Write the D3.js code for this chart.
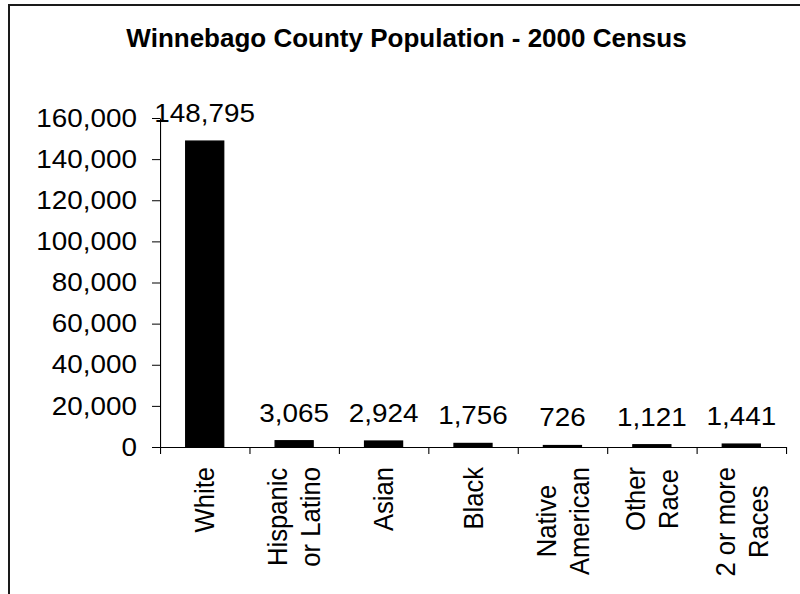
<!DOCTYPE html>
<html>
<head>
<meta charset="utf-8">
<script src="https://cdn.jsdelivr.net/npm/d3@7/dist/d3.min.js"></script>
<style>
  html, body { margin: 0; padding: 0; background: #fff; }
  svg { display: block; }
  text { font-family: "Liberation Sans", Arial, Helvetica, sans-serif; fill: #000; }
</style>
</head>
<body>
<svg id="chart" width="800" height="594"></svg>
<script>
// ---- data ----
const categories = ["White", "Hispanic or Latino", "Asian", "Black", "Native American", "Other Race", "2 or more Races"];
const categoryLines = [["White"], ["Hispanic", "or Latino"], ["Asian"], ["Black"], ["Native", "American"], ["Other", "Race"], ["2 or more", "Races"]];
const values = [148795, 3065, 2924, 1756, 726, 1121, 1441];
const yTicks = [0, 20000, 40000, 60000, 80000, 100000, 120000, 140000, 160000];
const titleText = "Winnebago County Population - 2000 Census";

// ---- layout ----
const W = 800, H = 594;
const sx = 1.088;           // horizontal stretch of the original rendering
const plotLeft = 160, plotRight = 786, plotTop = 118, plotBottom = 447;
const fontSize = 25.6;

const svg = d3.select("#chart");

// frame
svg.append("rect")
  .attr("x", 9).attr("y", 5)
  .attr("width", W + 20).attr("height", H + 20)
  .attr("fill", "none").attr("stroke", "#1a1a1a").attr("stroke-width", 2);

// title
svg.append("text")
  .attr("x", 406.5).attr("y", 47)
  .attr("text-anchor", "middle")
  .style("font-weight", "bold")
  .style("font-size", "26px")
  .text(titleText);

const g = svg.append("g").attr("transform", `scale(${sx},1)`);

const y = d3.scaleLinear().domain([0, 160000]).range([plotBottom, plotTop]);
const x = d3.scaleBand()
  .domain(categories)
  .range([plotLeft / sx, plotRight / sx])
  .paddingInner(0.575)
  .paddingOuter(0.2875);
const xIdx = d3.scaleLinear().domain([0, categories.length]).range([plotLeft / sx, plotRight / sx]);

// y axis
const yAxis = g.append("g")
  .attr("transform", `translate(${plotLeft / sx},0)`)
  .call(d3.axisLeft(y).tickValues(yTicks).tickFormat(d3.format(","))
    .tickSize(8 / sx).tickSizeOuter(0).tickPadding(15 / sx));
yAxis.selectAll("text").style("font-size", fontSize + "px").attr("fill", "#000").attr("font-family", null);
yAxis.selectAll("line,path").attr("stroke", "#000");

// x axis (ticks between categories)
const xAxis = g.append("g")
  .attr("transform", `translate(0,${plotBottom})`)
  .call(d3.axisBottom(xIdx).tickValues(d3.range(categories.length + 1))
    .tickFormat("").tickSize(7).tickSizeOuter(0));
xAxis.selectAll("line,path").attr("stroke", "#000");

// bars
g.selectAll("rect.bar")
  .data(values)
  .join("rect")
  .attr("class", "bar")
  .attr("x", (d, i) => x(categories[i]))
  .attr("width", x.bandwidth())
  .attr("y", d => y(d))
  .attr("height", d => y(0) - y(d))
  .attr("fill", "#000")
  .attr("stroke", "#000")
  .attr("stroke-width", 1.2);

// value labels
g.selectAll("text.val")
  .data(values)
  .join("text")
  .attr("class", "val")
  .attr("x", (d, i) => x(categories[i]) + x.bandwidth() / 2)
  .attr("y", d => y(d) - 19)
  .attr("text-anchor", "middle")
  .style("font-size", fontSize + "px")
  .text(d => d3.format(",")(d));

// category labels (rotated, multi-line, block top-aligned, lines centered)
const labelTop = 467;
const lineGap = 33 / sx;
categoryLines.forEach((lines, i) => {
  const cx = x(categories[i]) + x.bandwidth() / 2;
  const grp = g.append("g");
  const texts = lines.map((ln, j) => grp.append("text")
    .style("font-size", fontSize + "px")
    .attr("text-anchor", "middle")
    .attr("dy", "0.35em")
    .text(ln));
  const maxLen = d3.max(texts, t => t.node().getComputedTextLength());
  const n = lines.length;
  texts.forEach((t, j) => {
    const lx = cx + (j - (n - 1) / 2) * lineGap;
    t.attr("transform", `translate(${lx},${labelTop + maxLen / 2}) rotate(-90)`);
  });
});
</script>
</body>
</html>
